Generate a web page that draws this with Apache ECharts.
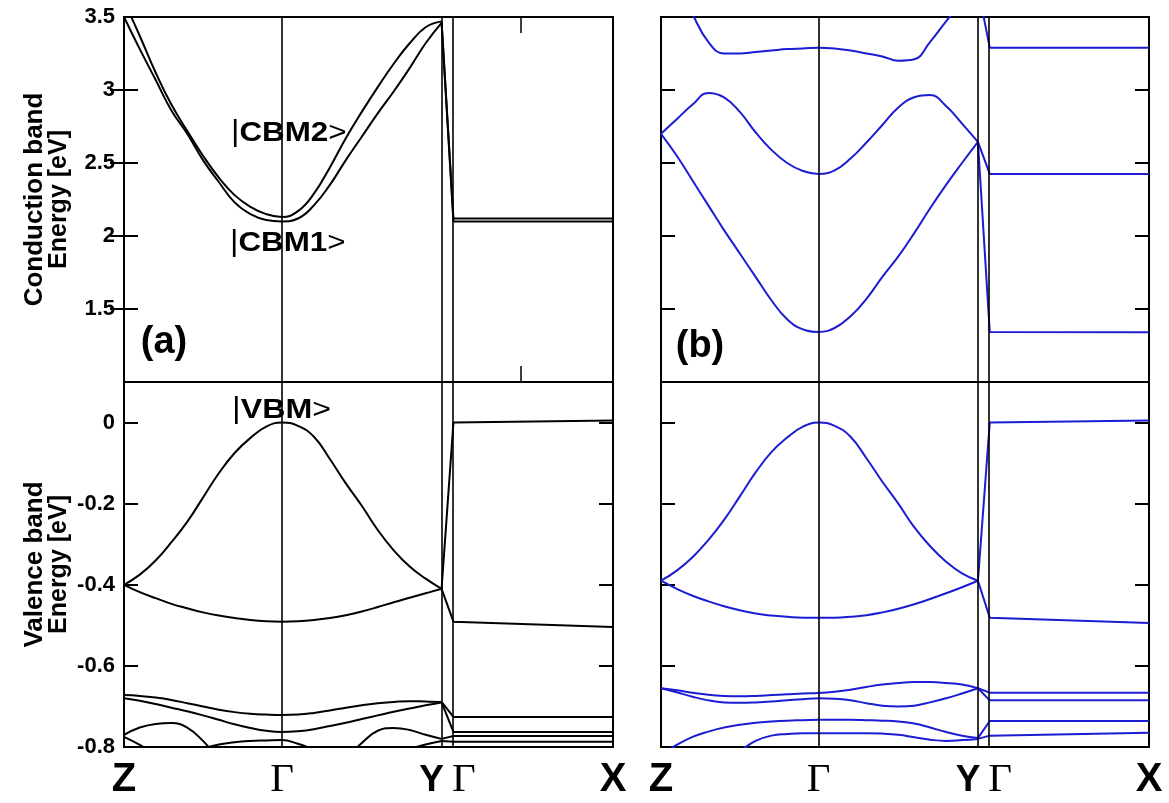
<!DOCTYPE html>
<html>
<head>
<meta charset="utf-8">
<script src="https://cdn.jsdelivr.net/npm/echarts@6/dist/echarts.min.js"></script>
<style>
  html, body { margin: 0; padding: 0; background: #fff; }
  #chart { width: 1169px; height: 803px; }
</style>
</head>
<body>
<div id="chart"></div>
<script>
// ---------- k-path (high-symmetry points, path coordinate) ----------
const kPoints = { Z: 0, G: 1, Y: 2.01, G2: 2.085, X: 3.095 };
const kLabels = ['Z', 'Γ', 'YΓ', 'X'];
// fractional steps along Z→Γ and Γ→Y
const tSteps = [0, 0.1, 0.2, 0.3, 0.4, 0.5, 0.6, 0.7, 0.8, 0.9, 1.0];

// ---------- y tick settings ----------
const condTicks = { min: 1.0, max: 3.5, interval: 0.5 };
const valTicks = { min: -0.8, max: 0.1, interval: 0.2 };
const condTickValues = [1.5, 2, 2.5, 3];
const condLabelValues = [1.5, 2, 2.5, 3, 3.5];
const valTickValues = [-0.6, -0.4, -0.2, 0];
const valLabelValues = [-0.8, -0.6, -0.4, -0.2, 0];

// ---------- panel (a) conduction band ----------
const aC1_ZG = [3.50, 3.28, 3.07, 2.86, 2.70, 2.52, 2.37, 2.23, 2.15, 2.11, 2.10];
const aC1_GY = [2.10, 2.12, 2.21, 2.35, 2.52, 2.68, 2.84, 2.99, 3.15, 3.32, 3.46];
const aC1_G2X = [2.10, 2.10];
const aC2_ZG = [3.61, 3.37, 3.12, 2.90, 2.72, 2.55, 2.40, 2.28, 2.20, 2.15, 2.13];
const aC2_GY = [2.13, 2.17, 2.29, 2.47, 2.67, 2.85, 3.02, 3.18, 3.32, 3.43, 3.47];
const aC2_G2X = [2.12, 2.12];

// ---------- panel (a) valence band ----------
const aV1_ZG = [-0.40, -0.375, -0.34, -0.295, -0.245, -0.185, -0.125, -0.075, -0.038, -0.01, 0.0];
const aV1_GY = [0.0, -0.008, -0.035, -0.09, -0.15, -0.205, -0.265, -0.315, -0.355, -0.385, -0.41];
const aV1_G2X = [0.0, 0.005];
const aV2_ZG = [-0.40, -0.418, -0.433, -0.447, -0.458, -0.468, -0.476, -0.482, -0.487, -0.49, -0.491];
const aV2_GY = [-0.491, -0.49, -0.487, -0.482, -0.475, -0.466, -0.455, -0.443, -0.432, -0.421, -0.41];
const aV2_G2X = [-0.491, -0.504];
const aV3_ZG = [-0.672, -0.674, -0.678, -0.684, -0.692, -0.70, -0.708, -0.714, -0.718, -0.72, -0.721];
const aV3_GY = [-0.721, -0.72, -0.716, -0.71, -0.703, -0.697, -0.692, -0.689, -0.687, -0.688, -0.689];
const aV3_G2X = [-0.726, -0.726];
const aV4_ZG = [-0.68, -0.686, -0.694, -0.703, -0.712, -0.722, -0.733, -0.744, -0.753, -0.76, -0.763];
const aV4_GY = [-0.763, -0.761, -0.756, -0.748, -0.74, -0.731, -0.722, -0.713, -0.705, -0.697, -0.69];
const aV4_G2X = [-0.763, -0.763];
const aV5_ZG = [-0.77, -0.752, -0.743, -0.741, -0.752, -0.785, -0.83, -0.87, -0.90, -0.915, -0.92];
const aV5_GY = [-0.92, -0.915, -0.90, -0.87, -0.83, -0.79, -0.76, -0.753, -0.758, -0.77, -0.78];
const aV5_G2X = [-0.773, -0.773];
const aV6_ZG = [-0.775, -0.795, -0.82, -0.84, -0.83, -0.805, -0.794, -0.788, -0.785, -0.784, -0.783];
const aV6_GY = [-0.783, -0.792, -0.806, -0.82, -0.83, -0.832, -0.828, -0.818, -0.805, -0.794, -0.785];
const aV6_G2X = [-0.787, -0.787];

// ---------- panel (b) conduction band ----------
const bC1_ZG = [2.70, 2.55, 2.38, 2.21, 2.04, 1.88, 1.72, 1.56, 1.43, 1.36, 1.343];
const bC1_GY = [1.343, 1.37, 1.45, 1.57, 1.72, 1.86, 2.02, 2.19, 2.35, 2.50, 2.645];
const bC1_G2X = [1.343, 1.34];
const bC2_ZG = [2.70, 2.80, 2.90, 2.98, 2.95, 2.85, 2.71, 2.59, 2.50, 2.445, 2.425];
const bC2_GY = [2.425, 2.45, 2.53, 2.64, 2.76, 2.88, 2.95, 2.965, 2.89, 2.77, 2.645];
const bC2_G2X = [2.425, 2.425];
const bC3_ZG = [4.00, 3.75, 3.52, 3.33, 3.25, 3.25, 3.26, 3.27, 3.28, 3.285, 3.29];
const bC3_GY = [3.29, 3.285, 3.27, 3.25, 3.23, 3.20, 3.21, 3.33, 3.47, 3.60, 3.70];
const bC3_G2X = [3.29, 3.29];

// ---------- panel (b) valence band ----------
const bV1_ZG = [-0.39, -0.365, -0.332, -0.29, -0.24, -0.182, -0.123, -0.073, -0.037, -0.01, 0.0];
const bV1_GY = [0.0, -0.008, -0.035, -0.088, -0.146, -0.2, -0.258, -0.305, -0.343, -0.372, -0.39];
const bV1_G2X = [0.0, 0.005];
const bV2_ZG = [-0.39, -0.41, -0.427, -0.441, -0.453, -0.463, -0.471, -0.476, -0.479, -0.481, -0.481];
const bV2_GY = [-0.481, -0.481, -0.479, -0.475, -0.468, -0.459, -0.448, -0.435, -0.421, -0.406, -0.39];
const bV2_G2X = [-0.481, -0.494];
const bV3_ZG = [-0.655, -0.66, -0.666, -0.671, -0.674, -0.675, -0.674, -0.672, -0.67, -0.668, -0.667];
const bV3_GY = [-0.667, -0.664, -0.659, -0.652, -0.646, -0.642, -0.64, -0.64, -0.642, -0.646, -0.655];
const bV3_G2X = [-0.666, -0.666];
const bV4_ZG = [-0.655, -0.665, -0.676, -0.685, -0.69, -0.691, -0.69, -0.688, -0.685, -0.682, -0.68];
const bV4_GY = [-0.68, -0.681, -0.685, -0.692, -0.698, -0.70, -0.698, -0.69, -0.68, -0.668, -0.655];
const bV4_G2X = [-0.685, -0.685];
const bV5_ZG = [-0.82, -0.795, -0.775, -0.762, -0.752, -0.745, -0.74, -0.737, -0.735, -0.734, -0.733];
const bV5_GY = [-0.733, -0.733, -0.733, -0.734, -0.735, -0.737, -0.742, -0.752, -0.763, -0.772, -0.778];
const bV5_G2X = [-0.736, -0.736];
const bV6_ZG = [-0.95, -0.92, -0.89, -0.86, -0.835, -0.81, -0.785, -0.772, -0.768, -0.766, -0.766];
const bV6_GY = [-0.766, -0.766, -0.766, -0.766, -0.767, -0.770, -0.776, -0.782, -0.785, -0.783, -0.78];
const bV6_G2X = [-0.772, -0.765];

// ---------- build ----------
const BLACK = '#000000';
const BLUE = '#1c1cd2';
const FONT = 'Liberation Sans, Arial, Helvetica, sans-serif';

const bands = [
  { grid: 0, color: BLACK, zg: aC1_ZG, gy: aC1_GY, tail: aC1_G2X },
  { grid: 0, color: BLACK, zg: aC2_ZG, gy: aC2_GY, tail: aC2_G2X },
  { grid: 1, color: BLACK, zg: aV1_ZG, gy: aV1_GY, tail: aV1_G2X },
  { grid: 1, color: BLACK, zg: aV2_ZG, gy: aV2_GY, tail: aV2_G2X },
  { grid: 1, color: BLACK, zg: aV3_ZG, gy: aV3_GY, tail: aV3_G2X },
  { grid: 1, color: BLACK, zg: aV4_ZG, gy: aV4_GY, tail: aV4_G2X },
  { grid: 1, color: BLACK, zg: aV5_ZG, gy: aV5_GY, tail: aV5_G2X },
  { grid: 1, color: BLACK, zg: aV6_ZG, gy: aV6_GY, tail: aV6_G2X },
  { grid: 2, color: BLUE, zg: bC1_ZG, gy: bC1_GY, tail: bC1_G2X },
  { grid: 2, color: BLUE, zg: bC2_ZG, gy: bC2_GY, tail: bC2_G2X },
  { grid: 2, color: BLUE, zg: bC3_ZG, gy: bC3_GY, tail: bC3_G2X },
  { grid: 3, color: BLUE, zg: bV1_ZG, gy: bV1_GY, tail: bV1_G2X },
  { grid: 3, color: BLUE, zg: bV2_ZG, gy: bV2_GY, tail: bV2_G2X },
  { grid: 3, color: BLUE, zg: bV3_ZG, gy: bV3_GY, tail: bV3_G2X },
  { grid: 3, color: BLUE, zg: bV4_ZG, gy: bV4_GY, tail: bV4_G2X },
  { grid: 3, color: BLUE, zg: bV5_ZG, gy: bV5_GY, tail: bV5_G2X },
  { grid: 3, color: BLUE, zg: bV6_ZG, gy: bV6_GY, tail: bV6_G2X }
];

const K = kPoints;
function bodyPoints(zg, gy) {
  const pts = [];
  tSteps.forEach((t, i) => pts.push([K.Z + t * (K.G - K.Z), zg[i]]));
  tSteps.forEach((u, i) => { if (i > 0) pts.push([K.G + u * (K.Y - K.G), gy[i]]); });
  return pts;
}
function tailPoints(gy, tail) {
  return [[K.Y, gy[gy.length - 1]], [K.G2, tail[0]], [K.X, tail[1]]];
}

const vLines = {
  symbol: 'none', silent: true, animation: false,
  label: { show: false },
  lineStyle: { color: '#000', width: 1.6, type: 'solid' },
  data: [{ xAxis: K.G }, { xAxis: K.Y }, { xAxis: K.G2 }]
};

const series = [];
const gridHasMark = {};
bands.forEach(b => {
  const common = {
    type: 'line', xAxisIndex: b.grid, yAxisIndex: 2 * b.grid,
    showSymbol: false, symbol: 'none', clip: true, animation: false, silent: true,
    lineStyle: { color: b.color, width: 2 }
  };
  const s = Object.assign({}, common, { data: bodyPoints(b.zg, b.gy), smooth: 0.45 });
  if (!gridHasMark[b.grid]) { s.markLine = vLines; gridHasMark[b.grid] = true; }
  series.push(s);
  series.push(Object.assign({}, common, { data: tailPoints(b.gy, b.tail), smooth: false }));
});

const grids = [
  { left: 124, top: 17, width: 489, height: 365 },
  { left: 124, top: 382, width: 489, height: 365 },
  { left: 661, top: 17, width: 488, height: 365 },
  { left: 661, top: 382, width: 488, height: 365 }
].map(g => Object.assign(g, { show: true, borderColor: '#000', borderWidth: 2, backgroundColor: 'transparent', containLabel: false }));

const labelValues = [K.Z, K.G, (K.Y + K.G2) / 2, K.X];
function kFormatter(v) {
  const idx = labelValues.findIndex(x => Math.abs(x - v) < 1e-6);
  if (idx === 0) return '{s|Z}';
  if (idx === 1) return '{g|Γ}';
  if (idx === 2) return '{y|Y}{g|Γ}';
  if (idx === 3) return '{s|X}';
  return '';
}
const kRich = {
  s: { fontFamily: FONT, fontWeight: 'bold', fontSize: 40, color: '#000' },
  y: { fontFamily: 'Liberation Sans Narrow, Liberation Sans, sans-serif', fontWeight: 'bold', fontSize: 37, color: '#000', padding: [0, 8, 0, 0] },
  g: { fontFamily: 'Liberation Serif, Times New Roman, serif', fontSize: 41, color: '#000' }
};

function makeX(gridIndex, withLabels, extraTick) {
  return {
    type: 'value', gridIndex, min: K.Z, max: K.X,
    axisLine: { show: false }, splitLine: { show: false },
    axisTick: extraTick
      ? { show: true, inside: true, length: 16, lineStyle: { color: '#000', width: 1.5 }, customValues: [2.513] }
      : { show: false },
    axisLabel: withLabels
      ? { show: true, customValues: labelValues, formatter: kFormatter, rich: kRich, margin: 13, showMinLabel: true, showMaxLabel: true, hideOverlap: false }
      : { show: false }
  };
}
const xAxes = [makeX(0, false, true), makeX(1, true, false), makeX(2, false, false), makeX(3, true, false)];
// extra top axis for the small tick on panel (a) top
xAxes.push(Object.assign(makeX(0, false, true), { position: 'top' }));

function tickFmt(v) {
  return String(Math.round(v * 10) / 10);
}
function makeY(gridIndex, range, tickVals, labelVals, side, showLabels, name) {
  const ax = {
    type: 'value', gridIndex, position: side, min: range.min, max: range.max, interval: range.interval,
    axisLine: { show: false }, splitLine: { show: false },
    axisTick: { show: true, inside: true, length: 14, lineStyle: { color: '#000', width: 2 }, customValues: tickVals },
    axisLabel: showLabels
      ? { show: true, customValues: labelVals, formatter: tickFmt, fontFamily: FONT, fontWeight: 'bold', fontSize: 22, color: '#000', margin: 9, showMinLabel: true, showMaxLabel: true }
      : { show: false }
  };
  if (name) {
    ax.name = name;
    ax.nameLocation = 'middle';
    ax.nameRotate = 90;
    ax.nameGap = 52;
    ax.nameTextStyle = {
      rich: {
        n1: { fontFamily: FONT, fontWeight: 'bold', fontSize: 26, lineHeight: 25, color: '#000' },
        n2: { fontFamily: FONT, fontWeight: 'bold', fontSize: 25, lineHeight: 25, color: '#000' }
      }
    };
  }
  return ax;
}
const yAxes = [
  makeY(0, condTicks, condTickValues, condLabelValues, 'left', true, '{n1|Conduction band}\n{n2|Energy [eV]}'),
  makeY(0, condTicks, condTickValues, condLabelValues, 'right', false),
  makeY(1, valTicks, valTickValues, valLabelValues, 'left', true, '{n1|Valence band}\n{n2|Energy [eV]}'),
  makeY(1, valTicks, valTickValues, valLabelValues, 'right', false),
  makeY(2, condTicks, condTickValues, condLabelValues, 'left', false),
  makeY(2, condTicks, condTickValues, condLabelValues, 'right', false),
  makeY(3, valTicks, valTickValues, valLabelValues, 'left', false),
  makeY(3, valTicks, valTickValues, valLabelValues, 'right', false)
];

const annRich = {
  bar: { fontFamily: FONT, fontSize: 29, color: '#000' },
  b: { fontFamily: FONT, fontWeight: 'bold', fontSize: 28, color: '#000' },
  gt: { fontFamily: FONT, fontSize: 28, color: '#000' }
};
function ann(x, y, text, scaleX) {
  return {
    type: 'text', x, y, scaleX: scaleX || 1, z: 100, silent: true,
    style: { text, rich: annRich, align: 'left', verticalAlign: 'middle', textAlign: 'left', textVerticalAlign: 'middle' }
  };
}
const graphics = [
  ann(231, 133, '{bar||}{b|CBM2}{gt|>}', 1.12),
  ann(230, 243, '{bar||}{b|CBM1}{gt|>}', 1.12),
  ann(232, 410, '{bar||}{b|VBM}{gt|>}', 1.15),
  { type: 'text', x: 164, y: 343, z: 100, silent: true,
    style: { text: '(a)', font: 'bold 38px ' + FONT, fill: '#000', align: 'center', verticalAlign: 'middle', textAlign: 'center', textVerticalAlign: 'middle' } },
  { type: 'text', x: 700, y: 347, z: 100, silent: true,
    style: { text: '(b)', font: 'bold 38px ' + FONT, fill: '#000', align: 'center', verticalAlign: 'middle', textAlign: 'center', textVerticalAlign: 'middle' } }
];

const chart = echarts.init(document.getElementById('chart'), null, { renderer: 'canvas' });
chart.setOption({
  backgroundColor: '#ffffff',
  animation: false,
  textStyle: { fontFamily: FONT },
  grid: grids,
  xAxis: xAxes,
  yAxis: yAxes,
  series,
  graphic: graphics
});
</script>
</body>
</html>
